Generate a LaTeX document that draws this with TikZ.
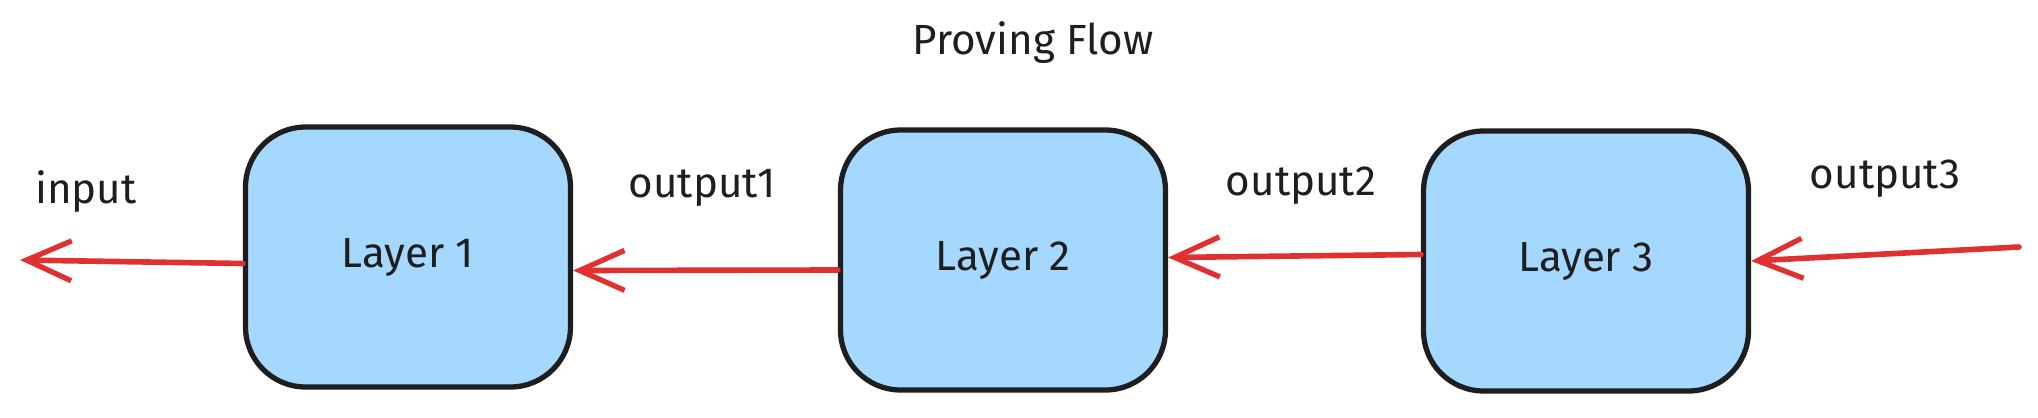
\documentclass[tikz,border=0pt]{standalone}
\usepackage{fontspec}
\setmainfont{Fira Sans}
\usetikzlibrary{arrows.meta}

\definecolor{boxblue}{HTML}{A5D8FF}
\definecolor{boxline}{HTML}{1E1E1E}
\definecolor{flowred}{HTML}{E03131}

\begin{document}
\begin{tikzpicture}[
  x=0.02cm, y=-0.02cm,
  every node/.style={font=\fontsize{24pt}{28pt}\selectfont,text=boxline},
  layer/.style={rectangle,rounded corners=1.2cm,draw=boxline,fill=boxblue,line width=3pt,
                minimum width=6.5cm,minimum height=5.2cm},
  flow/.style={draw=flowred,line width=3.2pt,line cap=round,
               -{Straight Barb[length=0.9cm,width=0.8cm,line width=3pt]}}]

  \useasboundingbox (0,0) rectangle (2038,417);

  \node(title)   at (1033,43)  {Proving Flow};

  \node(layer1)  [layer] at (408,257)  {Layer 1};
  \node(layer2)  [layer] at (1003,260) {Layer 2};
  \node(layer3)  [layer] at (1586,261) {Layer 3};

  \node(input)   at (86,192)   {input};
  \node(output1) at (702,188)  {output1};
  \node(output2) at (1301,186) {output2};
  \node(output3) at (1885,179) {output3};

  \coordinate(inend)   at (20,260);
  \coordinate(outfeed) at (2019,247);

  % arrows run right to left, slightly off the box middles as drawn
  \draw[flow] ([yshift=-0.13cm]layer1.west) -- (inend);
  \draw[flow] ([yshift=-0.2cm]layer2.west) -- ([yshift=-0.27cm]layer1.east);
  \draw[flow] ([yshift=0.13cm]layer3.west) -- ([yshift=0.05cm]layer2.east);
  \draw[flow] (outfeed) -- (layer3.east);

\end{tikzpicture}
\end{document}
